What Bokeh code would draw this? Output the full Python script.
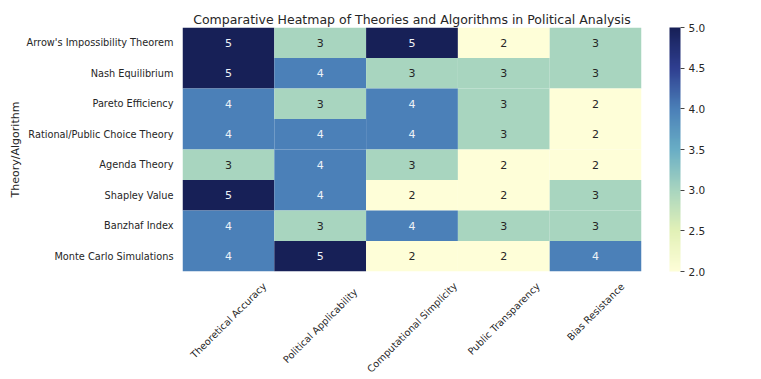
import math
import numpy as np
from bokeh.plotting import figure
from bokeh.layouts import column
from bokeh.models import (ColumnDataSource, LinearColorMapper, ColorBar, Range1d,
                          FixedTicker, PrintfTickFormatter)
from bokeh.core.properties import value
from bokeh.transform import transform
from bokeh.embed import file_html
from bokeh.resources import INLINE

theories = ["Arrow's Impossibility Theorem", "Nash Equilibrium", "Pareto Efficiency",
            "Rational/Public Choice Theory", "Agenda Theory", "Shapley Value",
            "Banzhaf Index", "Monte Carlo Simulations"]
criteria = ["Theoretical Accuracy", "Political Applicability", "Computational Simplicity",
            "Public Transparency", "Bias Resistance"]
theoretical_accuracy = [5, 5, 4, 4, 3, 5, 4, 4]
political_applicability = [3, 4, 3, 4, 4, 4, 3, 5]
computational_simplicity = [5, 3, 4, 4, 3, 2, 4, 2]
public_transparency = [2, 3, 3, 3, 2, 2, 3, 2]
bias_resistance = [3, 3, 2, 2, 2, 3, 3, 4]
colorbar_ticks = [2.0, 2.5, 3.0, 3.5, 4.0, 4.5, 5.0]

series = [theoretical_accuracy, political_applicability, computational_simplicity,
          public_transparency, bias_resistance]

FONT = "DejaVu Sans"

# palette (YlGnBu-like, as seen in the reference)
anchors = ["#fefed8", "#e2f1b7", "#a8d5bf", "#69aec5", "#4b80b8", "#2f3f91", "#172057"]
def hex2rgb(h):
    return [int(h[i:i + 2], 16) for i in (1, 3, 5)]
rgbs = [hex2rgb(h) for h in anchors]
palette = []
N = 256
for i in range(N):
    t = i / (N - 1) * (len(anchors) - 1)
    k = min(int(t), len(anchors) - 2)
    f = t - k
    c = [round(rgbs[k][j] * (1 - f) + rgbs[k + 1][j] * f) for j in range(3)]
    palette.append("#%02x%02x%02x" % tuple(c))

xs, ys, vals, txt, tcol = [], [], [], [], []
for ci, col in enumerate(criteria):
    for ri, th in enumerate(theories):
        v = series[ci][ri]
        xs.append(col)
        ys.append(th)
        vals.append(v)
        txt.append(str(v))
        tcol.append("#eef2f7" if v >= 4 else "#262626")
src = ColumnDataSource(dict(x=xs, y=ys, v=vals, t=txt, tc=tcol))

mapper = LinearColorMapper(palette=palette, low=2, high=5)

W = 745
BOT = 7
p = figure(width=W, height=271 + BOT, x_range=criteria, y_range=list(reversed(theories)),
           output_backend="svg", toolbar_location=None, x_axis_location=None,
           title="Comparative Heatmap of Theories and Algorithms in Political Analysis",
           min_border_left=182, min_border_bottom=BOT, min_border_right=104, min_border_top=27)
p.outline_line_color = None
p.grid.visible = False
p.background_fill_color = "white"

p.rect(x="x", y="y", width=1, height=1, source=src,
       fill_color=transform("v", mapper), line_color=None)
p.text(x="x", y="y", text="t", source=src, text_color="tc", text_align="center",
       text_baseline="middle", text_font_size="11px", text_font=value(FONT))

p.title.align = "center"
p.title.text_font = FONT
p.title.text_font_size = "12.5px"
p.title.text_font_style = "normal"
p.title.text_color = "#262626"
p.title.standoff = 2

ya = p.yaxis[0]
ya.axis_label = "Theory/Algorithm"
ya.axis_label_text_font = FONT
ya.axis_label_text_font_size = "11px"
ya.axis_label_text_font_style = "normal"
ya.axis_label_text_color = "#262626"
ya.axis_label_standoff = 2
ya.major_label_text_font = FONT
ya.major_label_text_font_size = "9.75px"
ya.major_label_text_color = "#262626"
ya.major_label_standoff = 9
ya.major_tick_in = 0
ya.major_tick_out = 0
ya.axis_line_color = None
ya.major_tick_line_color = None
ya.minor_tick_line_color = None

cb = ColorBar(color_mapper=mapper, width=11, height=244, location=(28, 0),
              padding=0, margin=0,
              ticker=FixedTicker(ticks=colorbar_ticks),
              formatter=PrintfTickFormatter(format="%.1f"),
              major_tick_in=0, major_tick_out=4, major_tick_line_color="#444444",
              minor_tick_line_color=None, bar_line_color=None, border_line_color=None,
              label_standoff=4, major_label_text_font=FONT,
              major_label_text_font_size="10.5px", major_label_text_color="#262626",
              background_fill_color=None)
p.add_layout(cb, "right")

# x tick labels: rotated 45 degrees, centred under each column (a strip sharing the x range)
LH = 108 - BOT
q = figure(width=W, height=LH, x_range=p.x_range, y_range=Range1d(-LH, 0),
           output_backend="svg", toolbar_location=None,
           x_axis_location=None, y_axis_location=None,
           min_border_left=182, min_border_right=104, min_border_top=0, min_border_bottom=0)
q.outline_line_color = None
q.grid.visible = False
lab_src = ColumnDataSource(dict(
    x=criteria, y=[BOT - (14 + 1.75 * len(c)) for c in criteria], t=criteria))
q.text(x="x", y="y", text="t", source=lab_src, angle=math.pi / 4,
       text_align="center", text_baseline="middle", text_font_size="9.75px",
       text_font=value(FONT), text_color="#262626")

layout = column(p, q, spacing=0)
open("out.html", "w").write(file_html(layout, INLINE))
